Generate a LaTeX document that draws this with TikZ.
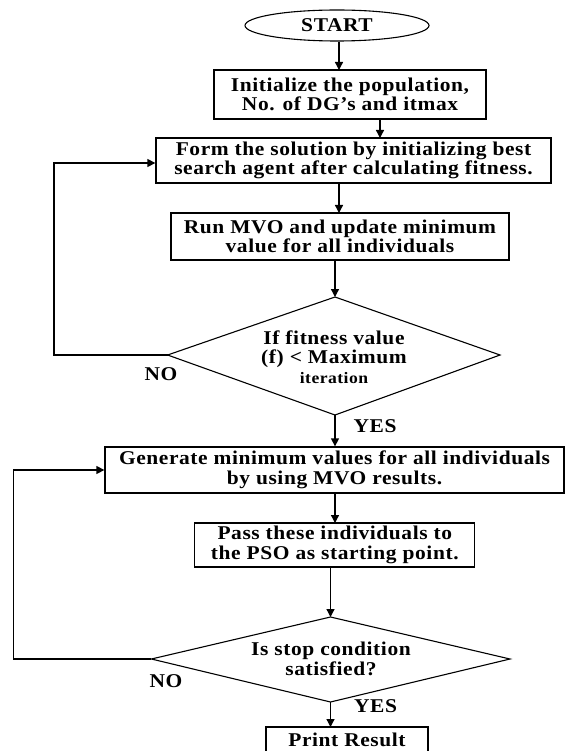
\documentclass[tikz,border=0pt]{standalone}
\usepackage{fontspec}
\setmainfont{Liberation Serif}[LetterSpace=3,FakeStretch=1.1]
\usetikzlibrary{shapes.geometric,arrows.meta}
\begin{document}
\begin{tikzpicture}[x=1pt,y=-1pt,
  every node/.style={font=\bfseries\fontsize{19.5}{19.5}\selectfont, inner sep=0pt, align=center},
  procbox/.style={draw, line width=1.3pt, rectangle},
  lbl/.style={font=\bfseries\fontsize{19.5}{19.5}\selectfont},
  arr/.style={-{Triangle[length=8pt,width=8pt]}, line width=1.3pt},
  ln/.style={line width=1.3pt}]
\useasboundingbox (0,0) rectangle (565,751);
\clip (0,0) rectangle (565,751);
\node[draw, line width=1.1pt, ellipse, minimum width=184pt, minimum height=31pt] (start) at (337,25.5) {START};
\node[procbox, minimum width=272pt, minimum height=49pt] (b1) at (350,94.5) {Initialize the population,\\No. of DG's and itmax};
\node[procbox, minimum width=395pt, minimum height=45pt] (b2) at (353.5,160.5) {Form the solution by initializing best\\search agent after calculating fitness.};
\node[procbox, minimum width=338pt, minimum height=47pt] (b3) at (340,236.5) {Run MVO and update minimum\\value for all individuals};
\coordinate (d1t) at (335,297);
\coordinate (d1l) at (167.6,355);
\coordinate (d1r) at (500,355);
\coordinate (d1b) at (335,415);
\draw[line width=1.1pt] (d1t) -- (d1r) -- (d1b) -- (d1l) -- cycle;
\node (d1) at (334,357) {If fitness value\\(f) < Maximum\\{\fontsize{16}{17}\selectfont iteration}};
\node[lbl] (no1) at (161,374) {NO};
\node[lbl] (yes1) at (375,426) {YES};
\node[procbox, minimum width=459pt, minimum height=46pt] (b4) at (334.5,470) {Generate minimum values for all individuals\\by using MVO results.};
\node[procbox, minimum width=280pt, minimum height=44pt] (b5) at (334.8,545) {Pass these individuals to\\the PSO as starting point.};
\coordinate (d2t) at (330.5,617);
\coordinate (d2l) at (151.4,659);
\coordinate (d2r) at (510,659);
\coordinate (d2b) at (330.5,702);
\draw[line width=1.1pt] (d2t) -- (d2r) -- (d2b) -- (d2l) -- cycle;
\node (d2) at (331,659) {Is stop condition\\satisfied?};
\node[lbl] (no2) at (166,681) {NO};
\node[lbl] (yes2) at (375.5,706) {YES};
\node[procbox, minimum width=162pt, minimum height=34pt] (b6) at (347,744) {};
\node (b6t) at (347,740) {Print Result};
% connectors
\draw[arr] (start.south -| 339,0) -- (339,70);
\draw[arr] (380,119) -- (380,138);
\draw[arr] (339,183) -- (339,213);
\draw[arr] (335,260) -- (d1t);
\draw[arr] (d1b) -- (b4.north -| d1b);
\draw[arr] (335,493) -- (335,523);
\draw[arr] (330.5,567) -- (d2t);
\draw[arr] (d2b) -- (330.5,727);
\draw[arr] (d1l) -- (54,355) -- (54,163) -- (b2.west |- 0,163);
\draw[arr] (d2l) -- (13.7,659) -- (13.7,470) -- (b4.west);
\end{tikzpicture}
\end{document}
